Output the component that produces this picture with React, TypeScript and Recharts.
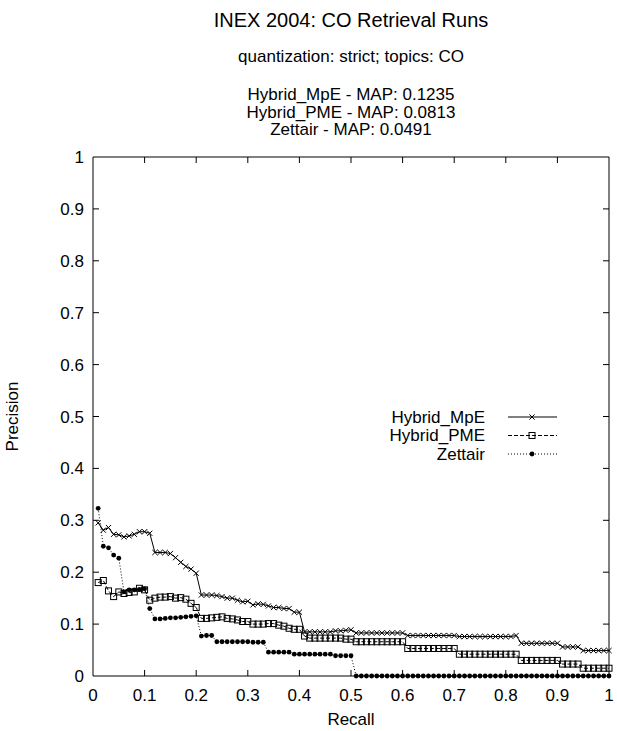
import React from 'react';
import { LineChart, Line, XAxis, YAxis, ReferenceArea, ReferenceLine, Legend } from 'recharts';

const FONT = '"Liberation Sans", Arial, Helvetica, sans-serif';

const titleText = 'INEX 2004: CO Retrieval Runs';
const subtitleText = 'quantization: strict; topics: CO';
const mapLines = ['Hybrid_MpE - MAP: 0.1235', 'Hybrid_PME - MAP: 0.0813', 'Zettair - MAP: 0.0491'];
const seriesNames = ['Hybrid_MpE', 'Hybrid_PME', 'Zettair'];

const recall = [
  0.01, 0.02, 0.03, 0.04, 0.05, 0.06, 0.07, 0.08, 0.09, 0.10,
  0.11, 0.12, 0.13, 0.14, 0.15, 0.16, 0.17, 0.18, 0.19, 0.20,
  0.21, 0.22, 0.23, 0.24, 0.25, 0.26, 0.27, 0.28, 0.29, 0.30,
  0.31, 0.32, 0.33, 0.34, 0.35, 0.36, 0.37, 0.38, 0.39, 0.40,
  0.41, 0.42, 0.43, 0.44, 0.45, 0.46, 0.47, 0.48, 0.49, 0.50,
  0.51, 0.52, 0.53, 0.54, 0.55, 0.56, 0.57, 0.58, 0.59, 0.60,
  0.61, 0.62, 0.63, 0.64, 0.65, 0.66, 0.67, 0.68, 0.69, 0.70,
  0.71, 0.72, 0.73, 0.74, 0.75, 0.76, 0.77, 0.78, 0.79, 0.80,
  0.81, 0.82, 0.83, 0.84, 0.85, 0.86, 0.87, 0.88, 0.89, 0.90,
  0.91, 0.92, 0.93, 0.94, 0.95, 0.96, 0.97, 0.98, 0.99, 1.00,
];

const hybridMpE = [
  0.295, 0.281, 0.286, 0.273, 0.272, 0.268, 0.270, 0.273, 0.278, 0.278,
  0.275, 0.238, 0.238, 0.238, 0.236, 0.228, 0.219, 0.211, 0.206, 0.198,
  0.156, 0.156, 0.156, 0.155, 0.153, 0.150, 0.150, 0.146, 0.143, 0.144,
  0.137, 0.139, 0.138, 0.135, 0.132, 0.132, 0.130, 0.130, 0.123, 0.123,
  0.085, 0.085, 0.085, 0.085, 0.085, 0.085, 0.087, 0.087, 0.088, 0.089,
  0.083, 0.083, 0.083, 0.083, 0.083, 0.083, 0.083, 0.083, 0.083, 0.083,
  0.078, 0.078, 0.078, 0.078, 0.078, 0.078, 0.078, 0.078, 0.078, 0.078,
  0.076, 0.076, 0.076, 0.076, 0.076, 0.076, 0.076, 0.076, 0.076, 0.076,
  0.076, 0.078, 0.063, 0.063, 0.063, 0.063, 0.063, 0.063, 0.063, 0.063,
  0.056, 0.056, 0.056, 0.056, 0.049, 0.049, 0.049, 0.049, 0.049, 0.049,
];

const hybridPME = [
  0.180, 0.184, 0.164, 0.153, 0.162, 0.159, 0.161, 0.162, 0.169, 0.166,
  0.146, 0.150, 0.152, 0.152, 0.153, 0.150, 0.151, 0.148, 0.140, 0.132,
  0.111, 0.111, 0.112, 0.113, 0.114, 0.111, 0.110, 0.108, 0.105, 0.105,
  0.100, 0.100, 0.100, 0.101, 0.101, 0.098, 0.096, 0.092, 0.090, 0.090,
  0.077, 0.073, 0.073, 0.073, 0.073, 0.073, 0.073, 0.073, 0.071, 0.071,
  0.066, 0.066, 0.066, 0.066, 0.066, 0.066, 0.066, 0.066, 0.066, 0.066,
  0.053, 0.053, 0.053, 0.053, 0.053, 0.053, 0.053, 0.053, 0.053, 0.053,
  0.042, 0.042, 0.042, 0.042, 0.042, 0.042, 0.042, 0.042, 0.042, 0.042,
  0.042, 0.042, 0.030, 0.030, 0.030, 0.030, 0.030, 0.030, 0.030, 0.030,
  0.023, 0.023, 0.023, 0.023, 0.015, 0.015, 0.015, 0.015, 0.015, 0.015,
];

const zettair = [
  0.323, 0.250, 0.247, 0.233, 0.227, 0.162, 0.166, 0.166, 0.167, 0.168,
  0.130, 0.110, 0.110, 0.111, 0.112, 0.112, 0.113, 0.114, 0.115, 0.116,
  0.077, 0.078, 0.078, 0.066, 0.066, 0.066, 0.066, 0.066, 0.066, 0.066,
  0.065, 0.065, 0.065, 0.046, 0.046, 0.046, 0.046, 0.046, 0.042, 0.042,
  0.042, 0.042, 0.042, 0.042, 0.042, 0.042, 0.039, 0.039, 0.039, 0.039,
  0, 0, 0, 0, 0, 0, 0, 0, 0, 0,
  0, 0, 0, 0, 0, 0, 0, 0, 0, 0,
  0, 0, 0, 0, 0, 0, 0, 0, 0, 0,
  0, 0, 0, 0, 0, 0, 0, 0, 0, 0,
  0, 0, 0, 0, 0, 0, 0, 0, 0, 0,
];

const xTicks = [0, 0.1, 0.2, 0.3, 0.4, 0.5, 0.6, 0.7, 0.8, 0.9, 1];
const yTicks = [0, 0.1, 0.2, 0.3, 0.4, 0.5, 0.6, 0.7, 0.8, 0.9, 1];

const rows = recall.map((r, i) => ({ r, mpe: hybridMpE[i], pme: hybridPME[i], zet: zettair[i] }));

const TICK_LEN = 0.0116;
const fmt = (v: number) => String(v);

const Cross = (props: any) => {
  const { cx, cy, index } = props;
  if (cx == null || cy == null) return <g key={`c-${index}`} />;
  const s = 2.6;
  return (
    <path key={`c-${index}`} d={`M${cx - s},${cy - s}L${cx + s},${cy + s}M${cx - s},${cy + s}L${cx + s},${cy - s}`} stroke="#000" strokeWidth={1} fill="none" />
  );
};
const Square = (props: any) => {
  const { cx, cy, index } = props;
  if (cx == null || cy == null) return <g key={`s-${index}`} />;
  const s = 3;
  return <rect key={`s-${index}`} x={cx - s} y={cy - s} width={2 * s} height={2 * s} stroke="#000" strokeWidth={1} fill="none" />;
};
const Dot = (props: any) => {
  const { cx, cy, index } = props;
  if (cx == null || cy == null) return <g key={`d-${index}`} />;
  return <circle key={`d-${index}`} cx={cx} cy={cy} r={2.4} fill="#000" stroke="none" />;
};

const legendStyles = [
  { dash: undefined as string | undefined, marker: 'cross' },
  { dash: '4 2', marker: 'square' },
  { dash: '1 2', marker: 'dot' },
];

const LegendContent = () => (
  <svg width={220} height={70} style={{ overflow: 'visible' }}>
    {seriesNames.map((name, i) => {
      const y = 17 + i * 18.5;
      const st = legendStyles[i];
      const mx = 232;
      return (
        <g key={name}>
          <text x={185} y={y} dy="0.35em" textAnchor="end" fontSize={17} fontFamily={FONT} fill="#000">{name}</text>
          <line x1={208} x2={257} y1={y} y2={y} stroke="#000" strokeWidth={1} strokeDasharray={st.dash} />
          {st.marker === 'cross' && <path d={`M${mx - 2.6},${y - 2.6}L${mx + 2.6},${y + 2.6}M${mx - 2.6},${y + 2.6}L${mx + 2.6},${y - 2.6}`} stroke="#000" fill="none" />}
          {st.marker === 'square' && <rect x={mx - 3} y={y - 3} width={6} height={6} stroke="#000" fill="none" />}
          {st.marker === 'dot' && <circle cx={mx} cy={y} r={2.4} fill="#000" />}
        </g>
      );
    })}
  </svg>
);

const textDiv = (text: string, cy: number, size: number) => (
  <div
    key={text}
    style={{
      position: 'absolute', left: 0, width: 702, top: cy - 12, height: 24, lineHeight: '24px',
      textAlign: 'center', fontFamily: FONT, fontSize: size, color: '#000', whiteSpace: 'nowrap',
    }}
  >
    {text}
  </div>
);

export default function App() {
  return (
    <div style={{ position: 'absolute', left: 0, top: 0, width: 617, height: 731, background: '#fff' }}>
      {textDiv(titleText, 20, 20)}
      {textDiv(subtitleText, 57, 17)}
      {mapLines.map((t, i) => textDiv(t, 95 + i * 17.5, 17))}
      <div style={{ position: 'absolute', left: 0, top: 0 }}>
        <LineChart width={617} height={731} data={rows} margin={{ top: 157, right: 8, bottom: 0, left: 0 }}>
          <XAxis
            dataKey="r"
            type="number"
            domain={[0, 1]}
            ticks={xTicks}
            tickFormatter={fmt}
            axisLine={false}
            tickLine={false}
            height={55}
            tickMargin={7}
            tick={{ fill: '#000', fontSize: 17, fontFamily: FONT }}
            interval={0}
            label={{ value: 'Recall', position: 'insideBottom', offset: 6, fill: '#000', fontSize: 17, fontFamily: FONT }}
          />
          <YAxis
            type="number"
            domain={[0, 1]}
            ticks={yTicks}
            tickFormatter={fmt}
            axisLine={false}
            tickLine={false}
            width={93}
            tickMargin={3}
            interval={0}
            tick={{ fill: '#000', fontSize: 17, fontFamily: FONT }}
            label={{ value: 'Precision', angle: -90, position: 'insideLeft', offset: 12, fill: '#000', fontSize: 17, fontFamily: FONT, style: { textAnchor: 'middle' } }}
          />
          <ReferenceArea x1={0} x2={1} y1={0} y2={1} fill="none" stroke="#000" strokeWidth={1} ifOverflow="visible" />
          {xTicks.slice(1, -1).map((t) => (
            <ReferenceLine key={`xb-${t}`} segment={[{ x: t, y: 0 }, { x: t, y: TICK_LEN }]} stroke="#000" ifOverflow="visible" />
          ))}
          {xTicks.slice(1, -1).map((t) => (
            <ReferenceLine key={`xt-${t}`} segment={[{ x: t, y: 1 }, { x: t, y: 1 - TICK_LEN }]} stroke="#000" ifOverflow="visible" />
          ))}
          {yTicks.slice(1, -1).map((t) => (
            <ReferenceLine key={`yl-${t}`} segment={[{ x: 0, y: t }, { x: TICK_LEN, y: t }]} stroke="#000" ifOverflow="visible" />
          ))}
          {yTicks.slice(1, -1).map((t) => (
            <ReferenceLine key={`yr-${t}`} segment={[{ x: 1, y: t }, { x: 1 - TICK_LEN, y: t }]} stroke="#000" ifOverflow="visible" />
          ))}
          <Line dataKey="mpe" name={seriesNames[0]} type="linear" stroke="#000" strokeWidth={1} dot={Cross} activeDot={false} isAnimationActive={false} />
          <Line dataKey="pme" name={seriesNames[1]} type="linear" stroke="#000" strokeWidth={1} strokeDasharray="4 2" dot={Square} activeDot={false} isAnimationActive={false} />
          <Line dataKey="zet" name={seriesNames[2]} type="linear" stroke="#000" strokeWidth={1} strokeDasharray="1 2" dot={Dot} activeDot={false} isAnimationActive={false} />
          <Legend
            layout="horizontal"
            align="center"
            verticalAlign="middle"
            content={LegendContent}
            wrapperStyle={{ left: 300, top: 400, width: 220, height: 70 }}
          />
        </LineChart>
      </div>
    </div>
  );
}
